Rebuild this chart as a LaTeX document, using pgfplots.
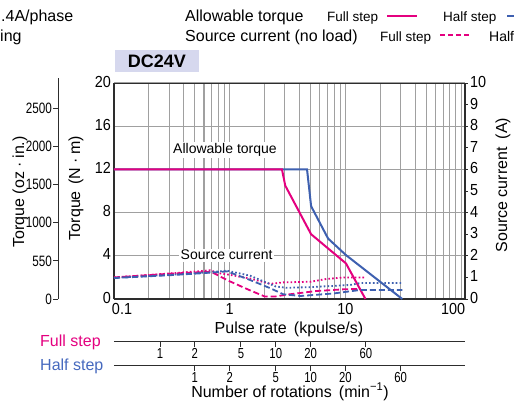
\documentclass[border=0pt]{standalone}
\usepackage{pgfplots}
\pgfplotsset{compat=1.18}
\usepackage{fontspec}
\setmainfont{Liberation Sans}
\newfontfamily\condfont{Liberation Sans}[FakeStretch=0.78]
\newfontfamily\semicond{Liberation Sans}[FakeStretch=0.9]
\newcommand\fs[1]{\fontsize{#1}{#1}\selectfont}
\definecolor{mag}{RGB}{228,0,127}
\definecolor{blu}{RGB}{62,96,176}
\definecolor{blutxt}{RGB}{70,105,190}
\definecolor{gridc}{RGB}{160,160,160}
\definecolor{boxc}{RGB}{214,216,238}
\definecolor{framec}{RGB}{45,45,45}
\begin{document}
\begin{tikzpicture}[x=1pt,y=1pt]
\path[use as bounding box] (0,0) rectangle (514,-408);

% ---- header ----
\node[anchor=base west, inner sep=0, font=\fs{16}] at (1,-21) {.4A/phase};
\node[anchor=base west, inner sep=0, font=\fs{16}] at (0,-41.5) {ing};
\node[anchor=base west, inner sep=0, font=\fs{16}] at (185,-21) {Allowable torque};
\node[anchor=base west, inner sep=0, font=\fs{13.5}] at (327,-21) {Full step};
\draw[mag, line width=1.8pt] (387,-15.7) -- (417,-15.7);
\node[anchor=base west, inner sep=0, font=\fs{13.5}] at (443,-21) {Half step};
\draw[blu, line width=1.8pt] (507,-15.7) -- (530,-15.7);
\node[anchor=base west, inner sep=0, font=\fs{16}] at (185,-41.5) {Source current (no load)};
\node[anchor=base west, inner sep=0, font=\fs{13.5}] at (380,-41.5) {Full step};
\draw[mag, line width=1.8pt, dash pattern=on 5pt off 3pt] (440,-35) -- (469,-35);
\node[anchor=base west, inner sep=0, font=\fs{14}] at (489,-41.5) {Half step};

\fill[boxc] (115,-50) rectangle (199,-72);
\node[font=\fs{18}\bfseries, inner sep=0] at (157,-61) {DC24V};

% ---- axis titles ----
\node[rotate=90, font=\fs{16}, inner sep=0] at (20,-192) {Torque\hspace{0.3em}(oz\hspace{0.25em}·\hspace{0.25em}in.)};
\node[rotate=90, font=\fs{16}, inner sep=0] at (76,-188) {Torque\hspace{0.4em}(N\hspace{0.25em}·\hspace{0.25em}m)};
\node[rotate=90, font=\fs{16}, inner sep=0] at (503,-185) {Source current\hspace{0.5em}(A)};
\node[anchor=base, font=\fs{16}, inner sep=0] at (289,-333) {Pulse rate\hspace{0.45em}(kpulse/s)};
\node[anchor=base west, font=\fs{16}, inner sep=0, text=mag] at (40,-346) {Full step};
\node[anchor=base west, font=\fs{16}, inner sep=0, text=blutxt] at (40,-370) {Half step};
\node[anchor=base, font=\fs{16}, inner sep=0] at (290,-397) {Number of rotations\hspace{0.45em}(min\textsuperscript{−1})};

% ---- oz.in axis ----
\begin{axis}[at={(58pt,-299pt)}, anchor=south west, scale only axis,
  width=1pt, height=221pt, ymin=0, ymax=2898, xmin=0, xmax=1,
  axis x line=none, axis y line=left, axis line style={-, framec, line width=1pt},
  ytick={0,500,1000,1500,2000,2500},
  yticklabels={0,550,1000,1500,2000,2500},
  tick align=outside, major tick length=5pt,
  tick style={framec, line width=1pt},
  yticklabel style={font=\condfont\fs{15}, inner sep=1pt}]
\end{axis}

% ---- main torque axis ----
\begin{axis}[name=main, at={(114pt,-299pt)}, anchor=south west, scale only axis,
  width=351pt, height=216pt, xmode=log, xmin=0.1, xmax=108, ymin=0, ymax=20,
  xtick={0.1,1,10,100},
  xticklabels={\makebox[0pt][l]{\kern-2pt 0.1},1,10,\makebox[0pt][r]{100\kern-4pt}},
  minor xtick={0.2,0.3,0.4,0.5,0.6,0.7,0.8,0.9,2,3,4,5,6,7,8,9,20,30,40,50,60,70,80,90},
  ytick={0,4,8,12,16,20}, yticklabels={0,4,8,12,16,20},
  xmajorgrids, xminorgrids, ymajorgrids,
  major grid style={gridc, line width=1.1pt},
  minor grid style={gridc, line width=1.1pt},
  major tick length=0pt, minor tick length=0pt,
  axis line style={framec, line width=1.2pt},
  xticklabel style={font=\semicond\fs{16}, inner sep=2pt, yshift=-2.5pt},
  yticklabel style={font=\semicond\fs{16}, inner sep=3pt, yshift=1.5pt},
  axis y line*=left, axis x line*=bottom, axis line style={-}]
\draw[framec, line width=1.2pt] (rel axis cs:0,1) -- (rel axis cs:1,1);
\addplot[blu, line width=2pt] coordinates {(0.1,12) (2.83,12) (4.66,12) (5.05,8.6) (7.08,5.6) (10.1,4.07) (31,0)};
\addplot[mag, line width=2pt] coordinates {(0.1,12) (2.83,12) (3.02,10.5) (5.05,6.0) (10.1,3.3) (14.9,0)};
\node[fill=white, inner sep=1.5pt, font=\fs{14}] at (axis cs:0.91,13.8) {Allowable torque};
\node[fill=white, inner sep=1.5pt, font=\fs{14}] at (axis cs:0.94,4.07) {Source current};
\end{axis}

% ---- current axis (right) ----
\begin{axis}[at={(114pt,-299pt)}, anchor=south west, scale only axis,
  width=351pt, height=216pt, xmode=log, xmin=0.1, xmax=108, ymin=0, ymax=10,
  axis x line=none, axis y line*=right, axis line style={-, framec, line width=1.2pt},
  ytick={0,1,2,3,4,5,6,7,8,9,10}, yticklabels={0,1,2,3,4,5,6,7,8,9,10},
  tick align=outside, major tick length=3pt, tick style={framec, line width=1pt},
  yticklabel style={font=\semicond\fs{16}, inner sep=2pt, yshift=1pt}]
\addplot[mag, line width=1.8pt, dash pattern=on 6pt off 3pt] coordinates {
 (0.1,1.0) (0.3,1.17) (0.6,1.25) (0.7,1.24) (1.0,0.82) (1.5,0.4) (2.0,0.12) (2.5,0.12) (3.1,0.2) (5.6,0.37) (9.7,0.45) (13.5,0.47)};
\addplot[mag, line width=1.8pt, dash pattern=on 1.6pt off 2.2pt] coordinates {
 (0.1,1.0) (0.3,1.18) (0.68,1.33) (0.8,1.2) (1.0,1.12) (1.5,0.95) (2.24,0.7) (2.9,0.77) (5.0,0.8) (6.9,0.93) (9.7,1.0) (14.9,1.0)};
\addplot[blu, line width=1.8pt, dash pattern=on 6pt off 3pt] coordinates {
 (0.1,0.97) (0.3,1.1) (0.6,1.2) (0.95,1.28) (1.5,0.88) (2.24,0.5) (2.9,0.22) (4.1,0.14) (8,0.26) (13.5,0.42) (31,0.42)};
\addplot[blu, line width=1.8pt, dash pattern=on 1.6pt off 2.2pt] coordinates {
 (0.1,0.98) (0.3,1.12) (0.6,1.22) (0.95,1.31) (1.5,1.08) (2.5,0.58) (3.1,0.52) (5,0.55) (11,0.65) (13.5,0.74) (31,0.74)};
\end{axis}

% ---- rotation scales ----
\begin{axis}[at={(114pt,-341pt)}, anchor=south west, scale only axis,
  width=351pt, height=5pt, xmode=log, xmin=0.1, xmax=108, ymin=0, ymax=1,
  axis y line=none, axis x line*=bottom, axis line style={-, framec, line width=1pt},
  xtick={0.25,0.5,1.25,2.5,5,15}, xticklabels={1,2,5,10,20,60},
  xminorticks=false, tick align=outside, major tick length=6pt,
  tick style={framec, line width=1pt},
  xticklabel style={font=\condfont\fs{14.5}, inner sep=1pt}]
\end{axis}
\begin{axis}[at={(114pt,-365pt)}, anchor=south west, scale only axis,
  width=351pt, height=5pt, xmode=log, xmin=0.1, xmax=108, ymin=0, ymax=1,
  axis y line=none, axis x line*=bottom, axis line style={-, framec, line width=1pt},
  xtick={0.5,1,2.5,5,10,30}, xticklabels={1,2,5,10,20,60},
  xminorticks=false, tick align=outside, major tick length=6pt,
  tick style={framec, line width=1pt},
  xticklabel style={font=\condfont\fs{14.5}, inner sep=1pt}]
\end{axis}
\end{tikzpicture}
\end{document}
